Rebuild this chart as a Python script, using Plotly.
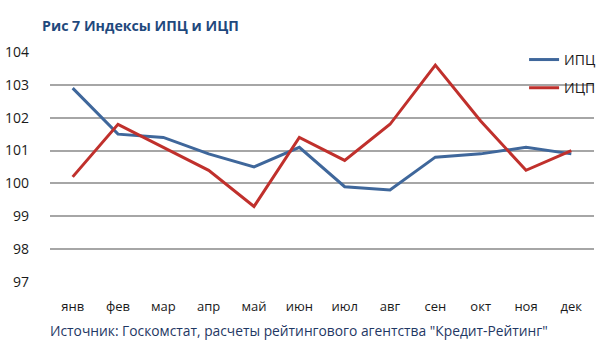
import plotly.graph_objects as go

months = ["янв", "фев", "мар", "апр", "май", "июн", "июл", "авг", "сен", "окт", "ноя", "дек"]
ipc = [102.9, 101.5, 101.4, 100.9, 100.5, 101.1, 99.9, 99.8, 100.8, 100.9, 101.1, 100.9]
icp = [100.2, 101.8, 101.1, 100.4, 99.3, 101.4, 100.7, 101.8, 103.6, 101.9, 100.4, 101.0]
yticks = [97, 98, 99, 100, 101, 102, 103, 104]

font_family = "Open Sans, sans-serif"

fig = go.Figure()
fig.add_trace(go.Scatter(x=months, y=ipc, mode="lines", name="ИПЦ", legendgroup="a",
                         line=dict(color="#3F679B", width=3)))
fig.add_trace(go.Scatter(x=months, y=icp, mode="lines", name="ИЦП", legendgroup="b",
                         line=dict(color="#C0302C", width=3)))

fig.update_layout(
    width=600, height=363,
    margin=dict(l=50, r=6, t=52, b=81, autoexpand=False),
    paper_bgcolor="white", plot_bgcolor="white",
    font=dict(family=font_family, size=14, color="#1a1a1a"),
    showlegend=True,
    legend=dict(x=1.013, y=1.035, xanchor="right", yanchor="top",
                bgcolor="rgba(0,0,0,0)", font=dict(size=14, color="#1a1a1a"),
                traceorder="grouped", tracegroupgap=7, itemwidth=30),
    xaxis=dict(showgrid=False, showline=False, ticks="", zeroline=False,
               range=[-0.5, 11.5], automargin=False, ticklabelstandoff=15,
               tickfont=dict(size=13, color="#1a1a1a")),
    yaxis=dict(range=[97, 104], tickvals=yticks, showgrid=True,
               gridcolor="#A6A6A6", gridwidth=1.5, zeroline=False, showline=False,
               automargin=False, ticklabelstandoff=20,
               ticks="", tickfont=dict(size=14, color="#1a1a1a")),
    annotations=[
        dict(text="<b>Рис 7 Индексы ИПЦ и ИЦП</b>", xref="paper", yref="paper",
             x=-0.018, y=1.117, xanchor="left", yanchor="middle", showarrow=False,
             font=dict(size=14.2, color="#1F497D", family=font_family)),
        dict(text="Источник: Госкомстат, расчеты рейтингового агентства \"Кредит-Рейтинг\"",
             xref="paper", yref="paper", x=-0.004, y=-0.21, xanchor="left",
             yanchor="middle", showarrow=False,
             font=dict(size=13.8, color="#1F3864", family=font_family)),
    ],
)

fig.write_html("out.html",
               config={"displayModeBar": False},
               post_script="document.body.style.margin='0';document.body.style.padding='0';")
